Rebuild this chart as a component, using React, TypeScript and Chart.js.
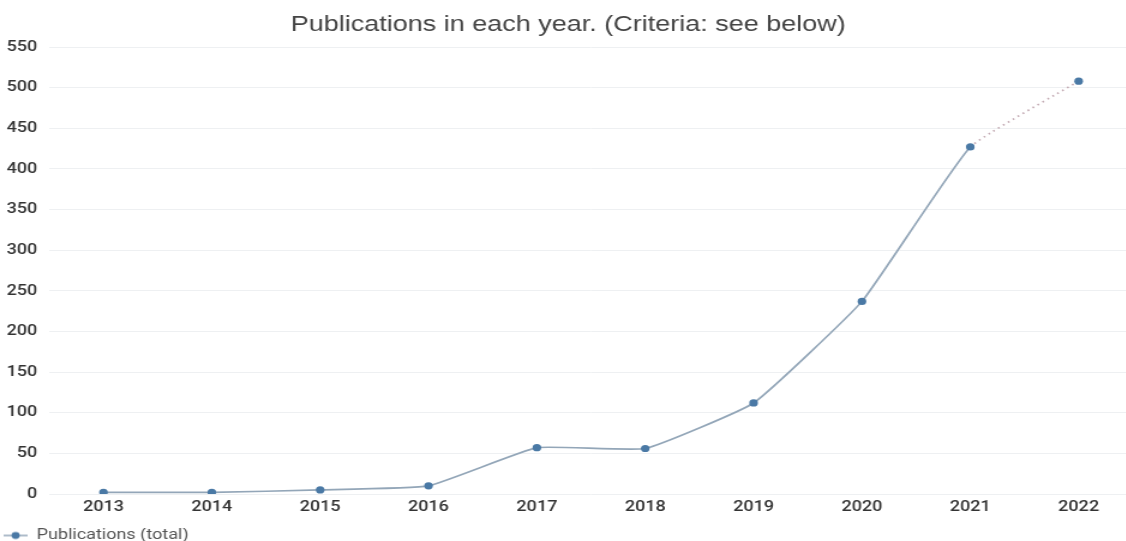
import React, { useEffect, useRef } from "react";
import { Chart, registerables } from "chart.js";

Chart.register(...registerables);

const years = ["2013", "2014", "2015", "2016", "2017", "2018", "2019", "2020", "2021", "2022"];
const publications = [2, 2, 5, 10, 57, 56, 112, 237, 427, 508];
const seriesLabel = "Publications (total)";
const chartTitle = "Publications in each year. (Criteria: see below)";
const yMin = 0;
const yMax = 550;
const yStep = 50;

const LINE = "#93a6b8";
const POINT = "#4a79a5";
const FONT = "Roboto, 'Noto Sans', sans-serif";
const TITLE_FONT = "'Liberation Sans', Arial, sans-serif";

// the reference picture is horizontally stretched; render narrower and stretch with CSS
const STRETCH = 1.2;
const DISPLAY_W = 1140;
const CANVAS_W = Math.round(DISPLAY_W / STRETCH);
const CANVAS_H = 553;

function legendIcon(): HTMLCanvasElement {
  const c = document.createElement("canvas");
  c.width = 22;
  c.height = 10;
  const ctx = c.getContext("2d")!;
  ctx.strokeStyle = LINE;
  ctx.lineWidth = 1.5;
  ctx.beginPath();
  ctx.moveTo(1, 5);
  ctx.lineTo(21, 5);
  ctx.stroke();
  ctx.fillStyle = POINT;
  ctx.beginPath();
  ctx.arc(11, 5, 3.4, 0, Math.PI * 2);
  ctx.fill();
  return c;
}

export default function App() {
  const ref = useRef<HTMLCanvasElement>(null);

  useEffect(() => {
    document.body.style.margin = "0";
    const lastIdx = publications.length - 2;
    const chart = new Chart(ref.current!, {
      type: "line",
      data: {
        labels: years,
        datasets: [
          {
            label: seriesLabel,
            data: publications,
            borderColor: LINE,
            backgroundColor: POINT,
            borderWidth: 1.7,
            pointRadius: 3.6,
            pointBackgroundColor: POINT,
            pointBorderColor: POINT,
            pointBorderWidth: 0,
            tension: 0.12,
            segment: {
              borderDash: (ctx: any) => (ctx.p0DataIndex === lastIdx ? [1.5, 3.5] : undefined),
              borderColor: (ctx: any) => (ctx.p0DataIndex === lastIdx ? "#c2a9b2" : undefined),
            },
          } as any,
        ],
      },
      options: {
        responsive: false,
        animation: false,
        layout: { padding: { left: 3, right: 6, top: 0, bottom: 0 } },
        plugins: {
          title: {
            display: true,
            text: chartTitle,
            color: "#444",
            font: { family: TITLE_FONT, size: 22.5, weight: "normal" },
            padding: { top: 11, bottom: 9 },
          },
          legend: {
            position: "bottom",
            align: "start",
            labels: {
              usePointStyle: true,
              pointStyle: legendIcon() as any,
              pointStyleWidth: 20,
              padding: 0,
              color: "#555",
              font: { family: FONT, size: 15 },
            },
          },
          tooltip: { enabled: false },
        },
        scales: {
          x: {
            offset: true,
            grid: { display: false, drawTicks: false },
            border: { display: false },
            ticks: {
              color: "#333",
              padding: 4,
              font: { family: FONT, size: 15, weight: 500 },
            },
            afterFit: (scale: any) => {
              scale.height += 8;
            },
          },
          y: {
            min: yMin,
            max: yMax,
            grid: { color: "#eef0f2", drawTicks: false, lineWidth: 1 },
            border: { display: false },
            ticks: {
              stepSize: yStep,
              color: "#333",
              padding: 10,
              font: { family: FONT, size: 15, weight: 500 },
            },
            afterFit: (scale: any) => {
              scale.width -= 7.5;
            },
          },
        },
      },
    });
    return () => chart.destroy();
  }, []);

  return (
    <div style={{ width: 1126, height: 541, overflow: "hidden", background: "#fff" }}>
      <canvas
        ref={ref}
        width={CANVAS_W}
        height={CANVAS_H}
        style={{ display: "block", width: DISPLAY_W, height: CANVAS_H }}
      />
    </div>
  );
}
